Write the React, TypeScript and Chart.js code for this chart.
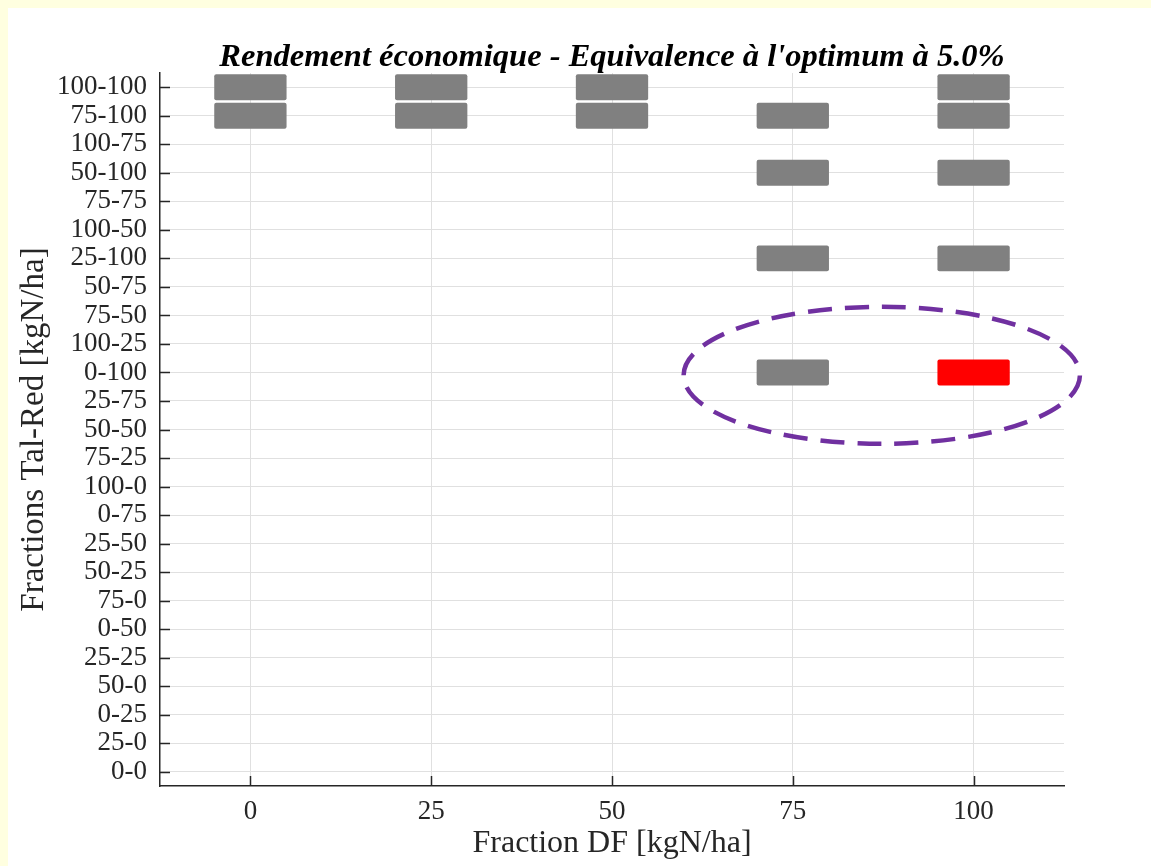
import React, { useEffect, useRef } from "react";
import { Chart, registerables } from "chart.js";

Chart.register(...registerables);

// Y categories, bottom to top
const yLabels = [
  "0-0", "25-0", "0-25", "50-0", "25-25", "0-50", "75-0", "50-25", "25-50",
  "0-75", "100-0", "75-25", "50-50", "25-75", "0-100", "100-25", "75-50",
  "50-75", "25-100", "100-50", "75-75", "50-100", "100-75", "75-100", "100-100",
];
const xTicks = [0, 25, 50, 75, 100];

// Equivalent combinations per DF fraction
const cells0 = ["100-100", "75-100"];
const cells25 = ["100-100", "75-100"];
const cells50 = ["100-100", "75-100"];
const cells75 = ["75-100", "50-100", "25-100", "0-100"];
const cells100 = ["100-100", "75-100", "50-100", "25-100", "0-100"];
const columnX = [0, 25, 50, 75, 100];
const columnCells = [cells0, cells25, cells50, cells75, cells100];

// Optimum (red)
const optimumX = 100;
const optimumY = "0-100";

// Highlight ellipse (data units: x in kgN/ha, y in category index)
const ellipseCenter = [87.3, 13.9];
const ellipseRadius = [27.4, 2.4];

const CELL_HALF_WIDTH = 5;
const FONT = "'Liberation Serif', 'Times New Roman', serif";
const INK = "#262626";
const PAGE_YELLOW = "#ffffe0";

const axisTicksPlugin = {
  id: "axisTicks",
  afterDraw(chart: any) {
    const { ctx, chartArea, scales } = chart;
    ctx.save();
    ctx.strokeStyle = INK;
    ctx.lineWidth = 1.5;
    scales.y.ticks.forEach((_t: any, i: number) => {
      const y = Math.round(scales.y.getPixelForTick(i)) + 0.5;
      ctx.beginPath();
      ctx.moveTo(chartArea.left, y);
      ctx.lineTo(chartArea.left + 10, y);
      ctx.stroke();
    });
    scales.x.ticks.forEach((_t: any, i: number) => {
      const x = Math.round(scales.x.getPixelForTick(i)) + 0.5;
      ctx.beginPath();
      ctx.moveTo(x, chartArea.bottom);
      ctx.lineTo(x, chartArea.bottom - 10);
      ctx.stroke();
    });
    ctx.restore();
  },
};

const ellipsePlugin = {
  id: "highlightEllipse",
  afterDraw(chart: any) {
    const { ctx, scales } = chart;
    const cx = scales.x.getPixelForValue(ellipseCenter[0]);
    const pxPerX = Math.abs(scales.x.getPixelForValue(1) - scales.x.getPixelForValue(0));
    const cy =
      scales.y.getPixelForValue(0) +
      (scales.y.getPixelForValue(1) - scales.y.getPixelForValue(0)) * ellipseCenter[1];
    const pxPerY = Math.abs(scales.y.getPixelForValue(1) - scales.y.getPixelForValue(0));
    ctx.save();
    ctx.strokeStyle = "#7030a0";
    ctx.lineWidth = 4.5;
    ctx.setLineDash([24, 13]);
    ctx.beginPath();
    ctx.ellipse(cx, cy, ellipseRadius[0] * pxPerX, ellipseRadius[1] * pxPerY, 0, Math.PI, 3 * Math.PI);
    ctx.stroke();
    ctx.restore();
  },
};

export default function App() {
  const ref = useRef<HTMLCanvasElement | null>(null);

  useEffect(() => {
    document.documentElement.style.background = "#ffffff";
    document.documentElement.style.overflow = "hidden";
    document.body.style.background = "#ffffff";
    document.body.style.overflow = "hidden";
    const canvas = ref.current;
    if (!canvas) return;

    const datasets = columnX.map((x, ci) => ({
      label: String(x),
      data: yLabels.map((lab) =>
        columnCells[ci].includes(lab) ? [x - CELL_HALF_WIDTH, x + CELL_HALF_WIDTH] : null
      ),
      backgroundColor: yLabels.map((lab) =>
        x === optimumX && lab === optimumY ? "#ff0000" : "#808080"
      ),
      borderWidth: 0,
      borderRadius: 2,
      borderSkipped: false,
      grouped: false,
      categoryPercentage: 1,
      barPercentage: 0.91,
    }));

    const chart = new Chart(canvas, {
      type: "bar",
      data: { labels: yLabels, datasets: datasets as any },
      options: {
        indexAxis: "y",
        animation: false,
        responsive: false,
        maintainAspectRatio: false,
        devicePixelRatio: 1,
        layout: { padding: { left: 0, right: 87, top: 0, bottom: 0 } },
        plugins: {
          legend: { display: false },
          tooltip: { enabled: false },
          title: {
            display: true,
            text: "Rendement économique - Equivalence à l'optimum à 5.0%",
            fullSize: false,
            color: "#000000",
            font: { family: FONT, size: 32.5, weight: "bold", style: "italic", lineHeight: 0.8 },
            padding: { top: 37, bottom: 2 },
          },
        },
        scales: {
          x: {
            type: "linear",
            min: -12.5,
            max: 112.5,
            afterBuildTicks: (s: any) => {
              s.ticks = xTicks.map((v) => ({ value: v }));
            },
            afterFit: (s: any) => {
              s.height = 80;
            },
            grid: { color: "#e0e0e0", drawTicks: false, lineWidth: 1 },
            border: { color: INK, width: 1.5 },
            ticks: {
              font: { family: FONT, size: 27 },
              color: INK,
              padding: 10,
            },
            title: {
              display: true,
              text: "Fraction DF [kgN/ha]",
              font: { family: FONT, size: 32 },
              color: INK,
              padding: { top: 0, bottom: 3 },
            },
          },
          y: {
            type: "category",
            reverse: true,
            offset: true,
            afterFit: (s: any) => {
              s.width = 152;
            },
            grid: { color: "#e0e0e0", drawTicks: false, offset: false, lineWidth: 1 },
            border: { color: INK, width: 1.5 },
            ticks: {
              font: { family: FONT, size: 27 },
              color: INK,
              padding: 13,
              autoSkip: false,
            },
            title: {
              display: true,
              text: "Fractions Tal-Red [kgN/ha]",
              font: { family: FONT, size: 33 },
              color: INK,
              padding: { top: 7, bottom: 0 },
            },
          },
        },
      },
      plugins: [axisTicksPlugin, ellipsePlugin],
    });

    return () => chart.destroy();
  }, []);

  return (
    <div>
      <div style={{ position: "fixed", left: 0, top: 0, right: 0, height: 8, background: PAGE_YELLOW }} />
      <div style={{ position: "fixed", left: 0, top: 0, bottom: 0, width: 8, background: PAGE_YELLOW }} />
      <div style={{ position: "fixed", left: 8, top: 8, right: 0, bottom: 0, background: "#ffffff" }}>
        <canvas
          ref={ref}
          width={1143}
          height={858}
          style={{ display: "block", width: 1143, height: 858, background: "#ffffff" }}
        />
      </div>
    </div>
  );
}
